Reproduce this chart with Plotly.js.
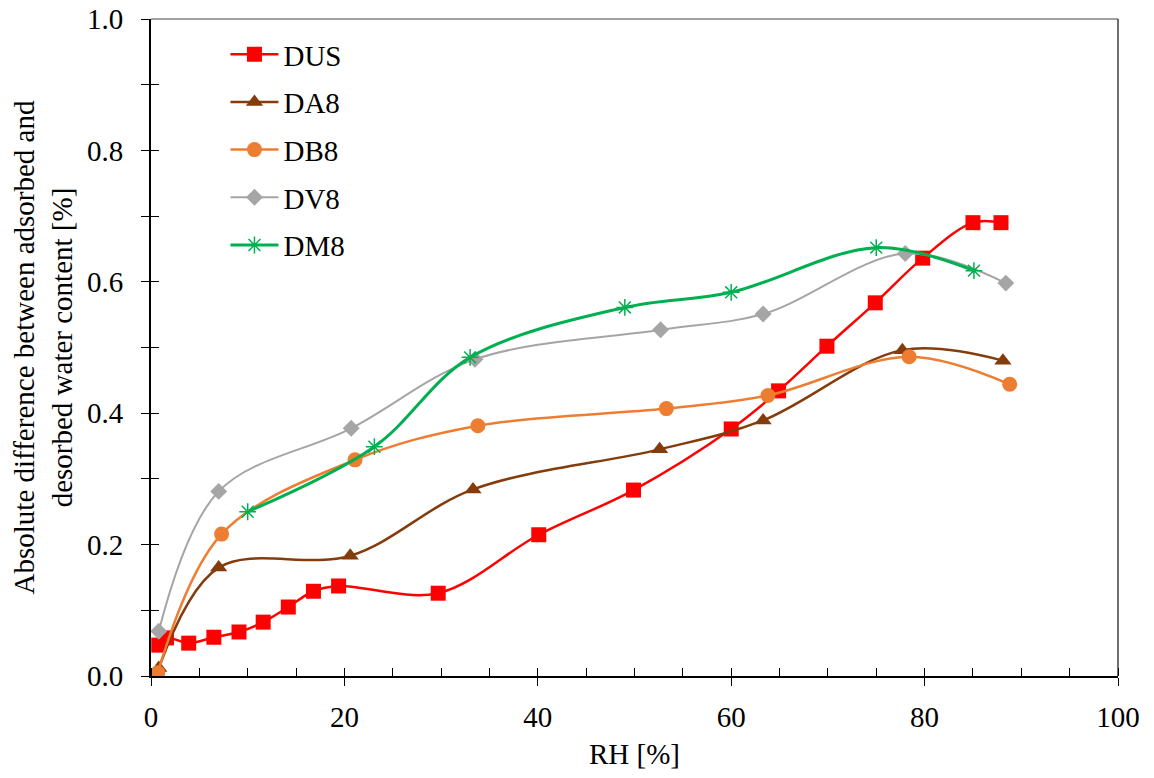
<!DOCTYPE html>
<html>
<head>
<meta charset="utf-8">
<script src="https://cdn.plot.ly/plotly-3.0.1.min.js"></script>
<style>
html,body{margin:0;padding:0;background:#fff;}
#chart{width:1154px;height:778px;}
#chart svg text{font-family:"Liberation Serif","Times New Roman",serif !important;}
</style>
</head>
<body>
<div id="chart"></div>
<script>
// Data
const dusX = [0.8, 1.6, 3.9, 6.5, 9.1, 11.6, 14.2, 16.8, 19.4, 29.7, 40.1, 49.9, 60.0, 64.9, 69.9, 74.9, 79.8, 85.0, 87.9];
const dusY = [0.047, 0.058, 0.050, 0.059, 0.067, 0.082, 0.105, 0.129, 0.137, 0.126, 0.215, 0.283, 0.376, 0.434, 0.502, 0.568, 0.636, 0.690, 0.690];

const da8X = [0.8, 7.0, 20.6, 33.3, 52.6, 63.3, 77.7, 88.1];
const da8Y = [0.012, 0.165, 0.183, 0.284, 0.345, 0.389, 0.496, 0.480];

const db8X = [0.7, 7.3, 21.1, 33.8, 53.3, 63.8, 78.4, 88.8];
const db8Y = [0.005, 0.216, 0.329, 0.381, 0.407, 0.427, 0.486, 0.444];

const dv8X = [0.8, 7.0, 20.7, 33.5, 52.7, 63.3, 78.0, 88.4];
const dv8Y = [0.068, 0.281, 0.377, 0.482, 0.527, 0.551, 0.643, 0.598];

const dm8X = [10.0, 23.1, 33.0, 49.0, 60.0, 75.0, 85.1];
const dm8Y = [0.250, 0.349, 0.485, 0.561, 0.584, 0.652, 0.617];

const seriesNames = ["DUS", "DA8", "DB8", "DV8", "DM8"];
const xTickVals = [0, 20, 40, 60, 80, 100];
const yTickVals = [0.0, 0.2, 0.4, 0.6, 0.8, 1.0];
const yTickText = ["0.0", "0.2", "0.4", "0.6", "0.8", "1.0"];

const FONT = "Liberation Serif";
const FS = 29;

function tr(x, y, name, color, symbol, size, width, group) {
  return {
    x: x, y: y, name: name, type: "scatter", mode: "lines+markers",
    line: {color: color, width: width, shape: "spline", smoothing: 1},
    marker: {symbol: symbol, size: size, color: color, line: {color: color, width: symbol.indexOf("open") >= 0 ? 1.5 : 0}},
    legendgroup: group
  };
}

const traces = [
  tr(dusX, dusY, seriesNames[0], "#FF0000", "square", 15, 2.5, "g1"),
  tr(da8X, da8Y, seriesNames[1], "#843C0C", "triangle-up", 15, 2.5, "g2"),
  tr(db8X, db8Y, seriesNames[2], "#ED7D31", "circle", 15, 2.5, "g3"),
  tr(dv8X, dv8Y, seriesNames[3], "#A5A5A5", "diamond", 13, 2, "g4"),
  tr(dm8X, dm8Y, seriesNames[4], "#00B050", "asterisk-open", 14, 3, "g5"),
  {x: [], y: [], xaxis: "x2", yaxis: "y2", type: "scatter", mode: "markers", showlegend: false, hoverinfo: "skip"}
];

const layout = {
  width: 1154, height: 778,
  margin: {l: 151, r: 36, t: 19, b: 102},
  paper_bgcolor: "#ffffff", plot_bgcolor: "#ffffff",
  font: {family: FONT, size: FS, color: "#000000"},
  showlegend: true,
  legend: {
    x: 0.077, y: 0.985, xanchor: "left", yanchor: "top",
    bgcolor: "rgba(0,0,0,0)", font: {family: FONT, size: FS, color: "#000000"},
    tracegroupgap: 7, itemwidth: 48
  },
  xaxis: {
    range: [0, 100], tickvals: xTickVals, ticks: "outside", ticklen: 8, tickwidth: 1, tickcolor: "#000",
    showline: true, linecolor: "#000", linewidth: 2, showgrid: false, zeroline: false,
    minor: {ticks: "inside", dtick: 5, tick0: 0, ticklen: 8, tickcolor: "#000", tickwidth: 1, showgrid: false},
    tickfont: {family: FONT, size: FS, color: "#000000"}, ticklabelstandoff: 6,
    title: {text: "RH [%]", font: {family: FONT, size: FS, color: "#000000"}, standoff: 12}
  },
  yaxis: {
    range: [0, 1], tickvals: yTickVals, ticktext: yTickText, ticks: "outside", ticklen: 8, tickwidth: 1, tickcolor: "#000",
    showline: true, linecolor: "#000", linewidth: 2, showgrid: false, zeroline: false,
    minor: {ticks: "outside", dtick: 0.1, tick0: 0, ticklen: 8, tickcolor: "#000", tickwidth: 1, showgrid: false},
    tickfont: {family: FONT, size: FS, color: "#000000"}, ticklabelstandoff: 12,
    title: {text: "Absolute difference between adsorbed and<br>desorbed water content [%]", font: {family: FONT, size: FS, color: "#000000"}, standoff: 6}
  },
  xaxis2: {
    overlaying: "x", range: [0, 100], tickvals: xTickVals, ticks: "inside", ticklen: 8, tickcolor: "#000",
    showticklabels: false, showline: false, showgrid: false, zeroline: false, side: "bottom", anchor: "y2"
  },
  yaxis2: {
    overlaying: "y", range: [0, 1], dtick: 0.1, tick0: 0, ticks: "inside", ticklen: 8, tickcolor: "#000",
    showticklabels: false, showline: false, showgrid: false, zeroline: false, side: "left", anchor: "x2"
  },
  shapes: [
    {type: "line", xref: "paper", yref: "paper", x0: 0, x1: 1, y0: 1, y1: 1, line: {color: "#808080", width: 1.5}, layer: "below"},
    {type: "line", xref: "paper", yref: "paper", x0: 1, x1: 1, y0: 0, y1: 1, line: {color: "#404040", width: 1.5}, layer: "below"}
  ]
};

Plotly.newPlot("chart", traces, layout, {displayModeBar: false}).then(function(gd) {
  gd.querySelectorAll("svg text").forEach(function(t) { t.style.fontFamily = '"Liberation Serif", "Times New Roman", serif'; });
});
</script>
</body>
</html>
